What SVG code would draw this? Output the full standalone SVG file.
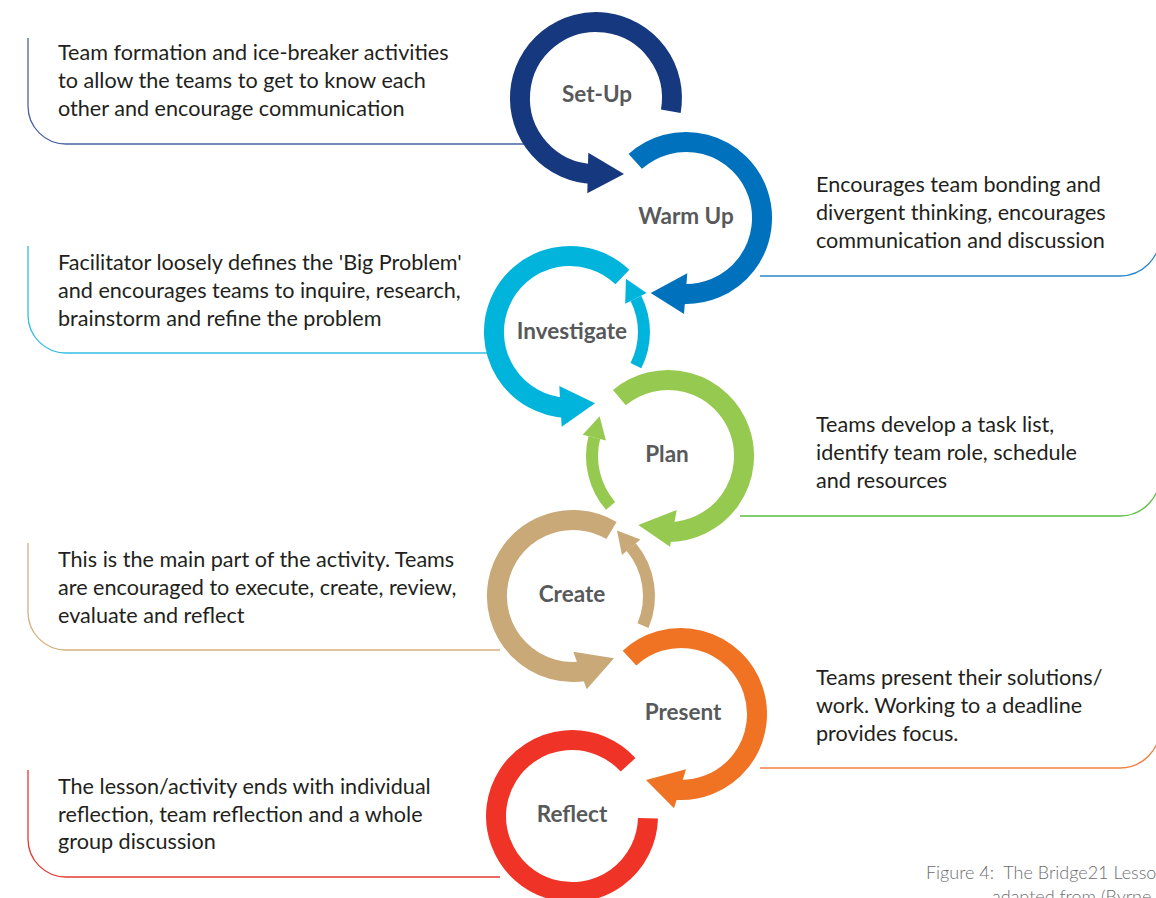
<svg xmlns="http://www.w3.org/2000/svg" width="1156" height="898" viewBox="0 0 1156 898">
<style>
.ring{fill:none;stroke-width:20;stroke-linecap:butt}
.thin{fill:none;stroke-width:12;stroke-linecap:butt}
.box{fill:none;stroke-width:1.3}
.lbl{font-family:Lato,"Open Sans",sans-serif;font-weight:700;font-size:22.5px;fill:#58595b;text-anchor:middle}
.desc{font-family:Lato,"Open Sans",sans-serif;font-size:21.6px;fill:#231f20}
.cap{font-family:Lato,"Open Sans",sans-serif;font-weight:300;font-size:18px;fill:#6d6e70;white-space:pre}
</style>
<rect width="1156" height="898" fill="#ffffff"/>
<g id="connectors">
<path class="box" stroke="#4a62a0" d="M28 38V106A38 38 0 0 0 66 144H530"/>
<path class="box" stroke="#2d86cc" d="M760 276H1120A40 40 0 0 0 1160 236V150"/>
<path class="box" stroke="#35bde3" d="M28 246V315A38 38 0 0 0 66 353H500"/>
<path class="box" stroke="#5cbf3f" d="M740 516H1120A40 40 0 0 0 1160 476V400"/>
<path class="box" stroke="#d4b07c" d="M28 543V612A38 38 0 0 0 66 650H500"/>
<path class="box" stroke="#f08040" d="M760 768H1120A40 40 0 0 0 1160 728V650"/>
<path class="box" stroke="#e53a30" d="M28 770V839A38 38 0 0 0 66 877H500"/>
</g>
<g id="setup">
<path class="ring" stroke="#15387e" d="M670.8 111.2A76 76 0 1 0 593.3 174"/>
<polygon fill="#15387e" points="588.3,152.7 624,174 587.3,193.3"/>
<text class="lbl" x="597" y="102">Set-Up</text>
<text class="desc"><tspan x="58" y="60">Team formation and ice-breaker activities</tspan><tspan x="58" y="88">to allow the teams to get to know each</tspan><tspan x="58" y="116">other and encourage communication</tspan></text>
</g>
<g id="warmup">
<path class="ring" stroke="#0071bc" d="M635.3 161.4A76 76 0 1 1 680.7 293.8"/>
<polygon fill="#0071bc" points="687.3,273.3 650.7,293 684,314"/>
<text class="lbl" x="686" y="224">Warm Up</text>
<text class="desc"><tspan x="816" y="192">Encourages team bonding and</tspan><tspan x="816" y="220">divergent thinking, encourages</tspan><tspan x="816" y="248">communication and discussion</tspan></text>
</g>
<g id="investigate">
<path class="ring" stroke="#00b4dc" d="M622.4 277A76 76 0 1 0 566 407.9"/>
<polygon fill="#00b4dc" points="559.3,386 595,403.3 561.7,426.7"/>
<path class="thin" stroke="#00b4dc" d="M635.9 365.6A74 74 0 0 0 635.9 298.4"/>
<polygon fill="#00b4dc" points="646.6,293 625.9,278.8 625.2,303.8"/>
<text class="lbl" x="572" y="339">Investigate</text>
<text class="desc"><tspan x="58" y="270">Facilitator loosely defines the 'Big Problem'</tspan><tspan x="58" y="298">and encourages teams to inquire, research,</tspan><tspan x="58" y="326">brainstorm and refine the problem</tspan></text>
</g>
<g id="plan">
<path class="ring" stroke="#96c94f" d="M619.4 397.6A76 76 0 1 1 668 532"/>
<polygon fill="#96c94f" points="676.7,510 638.3,525 670,546.7"/>
<path class="thin" stroke="#96c94f" d="M610.6 505.9A76 76 0 0 1 594.3 437.6"/>
<polygon fill="#96c94f" points="582.7,434.7 599.6,416.3 605.9,440.5"/>
<text class="lbl" x="667" y="462">Plan</text>
<text class="desc"><tspan x="816" y="432">Teams develop a task list,</tspan><tspan x="816" y="460">identify team role, schedule</tspan><tspan x="816" y="488">and resources</tspan></text>
</g>
<g id="create">
<path class="ring" stroke="#c8a977" d="M611.5 530.5A76 76 0 1 0 586.2 670.8"/>
<polygon fill="#c8a977" points="573.3,651.7 614,658.3 586.7,689.3"/>
<path class="thin" stroke="#c8a977" d="M643 625.7A76 76 0 0 0 631.2 547.2"/>
<polygon fill="#c8a977" points="640.4,539.5 617,530.4 622,554.9"/>
<text class="lbl" x="572" y="602">Create</text>
<text class="desc"><tspan x="58" y="567">This is the main part of the activity. Teams</tspan><tspan x="58" y="595">are encouraged to execute, create, review,</tspan><tspan x="58" y="623">evaluate and reflect</tspan></text>
</g>
<g id="present">
<path class="ring" stroke="#f07223" d="M629.5 658.1A76 76 0 1 1 674.4 789.7"/>
<polygon fill="#f07223" points="686,769.3 646,780 674,808.3"/>
<text class="lbl" x="683" y="720">Present</text>
<text class="desc"><tspan x="816" y="685">Teams present their solutions/</tspan><tspan x="816" y="713">work. Working to a deadline</tspan><tspan x="816" y="741">provides focus.</tspan></text>
</g>
<g id="reflect">
<path class="ring" stroke="#ef3326" d="M628.1 764.8A76 76 0 1 0 648 818.3"/>
<text class="lbl" x="572" y="822">Reflect</text>
<text class="desc"><tspan x="58" y="794">The lesson/activity ends with individual</tspan><tspan x="58" y="822">reflection, team reflection and a whole</tspan><tspan x="58" y="849">group discussion</tspan></text>
</g>
<g id="caption">
<text class="cap" x="926" y="879">Figure 4:  The Bridge21 Lesso</text>
<text class="cap" x="992" y="903">adapted from (Byrne</text>
</g>
</svg>
